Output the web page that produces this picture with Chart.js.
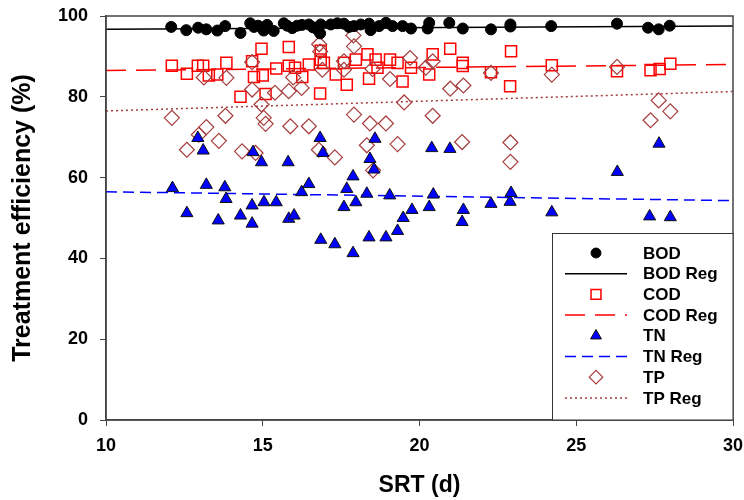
<!DOCTYPE html>
<html>
<head>
<meta charset="utf-8">
<script src="https://cdn.jsdelivr.net/npm/chart.js@4"></script>
<style>
  html, body { margin: 0; padding: 0; background: #fff; }
  #wrap { width: 744px; height: 500px; }
</style>
</head>
<body>
<div id="wrap"><canvas id="myChart" width="744" height="500"></canvas></div>
<script>
// data (SRT in days, efficiency in %)
const bodSrt = [12.08, 12.56, 12.94, 13.2, 13.55, 13.8, 14.29, 14.6, 14.72, 14.85, 15.03, 15.14, 15.35, 15.67, 15.78, 15.94, 16.1, 16.25, 16.47, 16.6, 16.74,
	16.85, 16.83, 17.17, 17.38, 17.59, 17.75, 17.91, 18.13, 18.39, 18.44, 18.71, 18.93, 19.14, 19.46, 19.73, 20.26, 20.31, 20.95, 21.38, 22.28, 22.9, 22.9,
	24.2, 26.3, 27.29, 27.63, 27.98];
const bodEff = [97.3, 96.5, 97.1, 96.7, 96.4, 97.5, 95.8, 98.2, 97.3, 97.6, 96.4, 97.8, 96.3, 98.2, 97.6, 97.0, 97.6, 97.8, 97.9, 97.2, 96.7,
	97.9, 95.7, 97.9, 98.2, 98.1, 97.3, 97.5, 97.9, 98.1, 96.5, 97.5, 98.3, 97.5, 97.5, 96.9, 96.9, 98.3, 98.3, 96.9, 96.7, 97.9, 97.4,
	97.5, 98.1, 97.1, 96.7, 97.6];

const codSrt = [12.1, 12.58, 12.93, 13.1, 13.28, 13.55, 13.84, 14.29, 14.66, 14.72, 14.96, 15.0, 15.09, 15.43, 15.83, 15.83, 16.03, 16.26, 16.47,
	16.85, 16.85, 16.95, 17.33, 17.59, 17.68, 17.97, 18.34, 18.39, 18.6, 18.66, 19.06, 19.3, 19.46, 19.73, 20.42, 20.31, 20.98, 21.38, 21.38,
	22.28, 22.92, 22.89, 16.83, 24.22, 26.3, 27.37, 27.66, 28.0];
const codEff = [87.7, 85.7, 87.7, 87.7, 85.3, 85.5, 88.4, 80.0, 88.8, 84.9, 91.9, 85.3, 80.7, 87.0, 92.3, 87.7, 87.2, 84.9, 88.0,
	91.4, 89.2, 88.4, 85.5, 88.4, 83.0, 89.2, 90.5, 84.5, 89.2, 87.2, 89.2, 88.4, 83.8, 87.2, 90.5, 85.5, 91.9, 88.4, 87.6,
	86.1, 91.3, 82.6, 80.8, 87.8, 86.3, 86.6, 86.9, 88.2];

const tnSrt = [12.12, 12.58, 12.93, 13.1, 13.2, 13.58, 13.79, 13.83, 14.29, 14.66, 14.66, 14.69, 14.96, 15.04, 15.43, 15.81, 15.83, 16.0, 16.24, 16.47,
	16.83, 16.92, 16.85, 17.3, 17.59, 17.68, 17.88, 17.88, 17.97, 18.32, 18.39, 18.42, 18.55, 18.58, 18.93, 19.05, 19.3, 19.48, 19.76,
	20.31, 20.39, 20.44, 20.97, 21.36, 21.4, 22.28, 22.89, 22.92, 24.22, 26.31, 27.34, 27.64, 28.0];
const tnEff = [57.4, 51.2, 69.8, 66.7, 58.2, 49.4, 57.6, 54.7, 50.6, 53.1, 48.6, 66.3, 63.8, 53.9, 53.9, 63.8, 49.8, 50.6, 56.4, 58.4,
	69.8, 66.1, 44.6, 43.5, 52.7, 57.2, 60.3, 41.3, 53.9, 56.0, 45.2, 64.6, 62.0, 69.6, 45.2, 55.6, 46.8, 50.0, 52.0,
	52.7, 67.3, 55.8, 67.1, 49.0, 52.0, 53.5, 54.0, 56.2, 51.4, 61.4, 50.4, 68.4, 50.2];

const tpSrt = [12.1, 12.58, 12.96, 13.12, 13.2, 13.6, 13.81, 13.84, 14.34, 14.66, 14.66, 14.77, 14.96, 15.03, 15.09, 15.39, 15.83, 15.88, 15.97, 16.24, 16.47,
	16.8, 16.83, 16.79, 16.9, 17.3, 17.59, 17.59, 17.89, 17.91, 17.91, 18.32, 18.42, 18.5, 18.52, 18.93, 19.06, 19.3, 19.51, 19.7,
	20.2, 20.42, 20.42, 20.98, 21.36, 21.4, 22.28, 22.9, 22.9, 24.22, 26.3, 27.37, 27.63, 28.0];
const tpEff = [74.8, 66.9, 70.6, 84.8, 72.5, 69.1, 75.3, 84.7, 66.5, 88.6, 81.8, 66.1, 78.1, 74.8, 73.3, 81.0, 81.4, 72.7, 84.8, 82.2, 72.7,
	93.0, 91.2, 66.9, 86.7, 65.0, 88.8, 86.7, 95.2, 92.5, 75.6, 68.0, 73.4, 86.9, 61.8, 73.4, 84.4, 68.3, 78.6, 89.6,
	87.2, 88.8, 75.3, 82.0, 68.8, 82.8, 85.9, 68.7, 63.9, 85.5, 87.4, 74.2, 79.1, 76.4];

// regression lines, end points at SRT 10 and 30
const regSrt = [10, 30];
const bodReg = [96.7, 97.5];
const codReg = [86.5, 88.0];
const tnReg = [56.5, 54.3];
const tpReg = [76.5, 81.3];

const FONT = 'Liberation Sans, Arial, sans-serif';
const TP_COLOR = '#a63c3c';

const toPoints = (xs, ys) => xs.map((x, i) => ({ x: x, y: ys[i] }));

const pointSet = (label, xs, ys, style, radius, fill, border, bw, order) => ({
	type: 'scatter',
	label: label,
	data: toPoints(xs, ys),
	pointStyle: style,
	pointRadius: radius,
	pointHoverRadius: radius,
	backgroundColor: fill,
	borderColor: border,
	borderWidth: bw,
	order: order
});

const lineSet = (label, ys, color, dash, order) => ({
	type: 'line',
	label: label,
	data: toPoints(regSrt, ys),
	borderColor: color,
	borderWidth: 1.5,
	borderDash: dash,
	pointRadius: 0,
	fill: false,
	order: order
});

// legend drawn inside the plot, bottom right
const boxLegend = {
	id: 'boxLegend',
	afterDraw(chart) {
		const ctx = chart.ctx;
		const area = chart.chartArea;
		const x0 = 552.5, y0 = 233.5;
		ctx.save();
		ctx.fillStyle = '#fff';
		ctx.fillRect(x0, y0, area.right - x0, area.bottom - y0);
		ctx.strokeStyle = '#333';
		ctx.lineWidth = 1;
		ctx.strokeRect(x0, y0, area.right - x0, area.bottom - y0);

		ctx.font = 'bold 17px ' + FONT;
		ctx.textBaseline = 'middle';
		ctx.textAlign = 'left';
		chart.data.datasets.forEach((ds, i) => {
			const y = 253 + i * 20.7;
			if (ds.type === 'line') {
				ctx.save();
				ctx.strokeStyle = ds.borderColor;
				ctx.lineWidth = 1.5;
				ctx.setLineDash(ds.borderDash || []);
				ctx.beginPath();
				ctx.moveTo(565, y);
				ctx.lineTo(627, y);
				ctx.stroke();
				ctx.restore();
			} else {
				ctx.save();
				ctx.fillStyle = ds.backgroundColor;
				ctx.strokeStyle = ds.borderColor;
				ctx.lineWidth = ds.borderWidth;
				Chart.helpers.drawPoint(ctx, {
					pointStyle: ds.pointStyle,
					radius: ds.pointRadius * 0.9,
					rotation: 0,
					borderWidth: ds.borderWidth
				}, 596, y);
				ctx.restore();
			}
			ctx.fillStyle = '#000';
			ctx.fillText(ds.label, 643, y + 1);
		});
		ctx.restore();
	}
};

// frame round the plot area
const frame = {
	id: 'frame',
	afterDatasetsDraw(chart) {
		const a = chart.chartArea;
		const ctx = chart.ctx;
		ctx.save();
		ctx.strokeStyle = '#444';
		ctx.lineWidth = 1.5;
		ctx.strokeRect(a.left, a.top, a.right - a.left, a.bottom - a.top);
		ctx.restore();
	}
};

const myChart = document.getElementById('myChart').getContext('2d');
new Chart(myChart, {
	type: 'scatter',
	data: {
		datasets: [
			pointSet('BOD', bodSrt, bodEff, 'circle', 5.5, '#000', '#000', 1, 1),
			lineSet('BOD Reg', bodReg, '#000', [], 10),
			pointSet('COD', codSrt, codEff, 'rect', 7.8, 'rgba(0,0,0,0)', '#ff0000', 1.5, 4),
			lineSet('COD Reg', codReg, '#ff0000', [20, 10], 11),
			pointSet('TN', tnSrt, tnEff, 'triangle', 7, '#0000ff', '#111', 1, 2),
			lineSet('TN Reg', tnReg, '#0000ff', [11, 6], 12),
			pointSet('TP', tpSrt, tpEff, 'rectRot', 7.5, 'rgba(0,0,0,0)', TP_COLOR, 1.2, 3),
			lineSet('TP Reg', tpReg, TP_COLOR, [2, 3], 13)
		]
	},
	options: {
		responsive: false,
		animation: false,
		devicePixelRatio: 1,
		layout: { padding: { left: 0, right: 11, top: 16, bottom: 0 } },
		plugins: {
			legend: { display: false },
			tooltip: { enabled: false }
		},
		scales: {
			x: {
				type: 'linear',
				min: 10,
				max: 30,
				afterFit: (scale) => {
					scale.height = 80;
					scale.paddingLeft = 0;
					scale.paddingRight = 0;
				},
				ticks: {
					stepSize: 5,
					color: '#000',
					padding: 9,
					font: { family: FONT, size: 18, weight: 'bold' }
				},
				grid: { display: true, drawOnChartArea: false, drawTicks: true, tickLength: 6, color: '#444' },
				border: { display: true, color: '#444', width: 1.5 },
				title: {
					display: true,
					text: 'SRT (d)',
					color: '#000',
					padding: { top: 0, bottom: 1 },
					font: { family: FONT, size: 23, weight: 'bold' }
				}
			},
			y: {
				type: 'linear',
				min: 0,
				max: 100,
				afterFit: (scale) => {
					scale.width = 106;
					scale.paddingTop = 0;
					scale.paddingBottom = 0;
				},
				ticks: {
					stepSize: 20,
					color: '#000',
					padding: 12,
					font: { family: FONT, size: 18, weight: 'bold' }
				},
				grid: { display: true, drawOnChartArea: false, drawTicks: true, tickLength: 6, color: '#444' },
				border: { display: true, color: '#444', width: 1.5 },
				title: {
					display: true,
					text: 'Treatment efficiency (%)',
					color: '#000',
					padding: { top: 8, bottom: 0 },
					font: { family: FONT, size: 25, weight: 'bold' }
				}
			}
		}
	},
	plugins: [frame, boxLegend]
});
</script>
</body>
</html>
